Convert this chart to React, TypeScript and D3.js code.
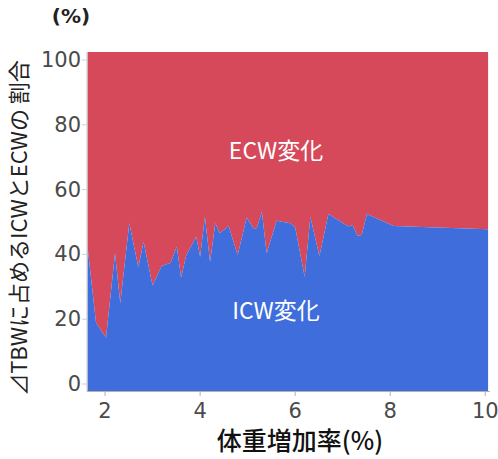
import React from "react";
import * as d3 from "d3";

const weightGain: number[] = [1.63, 1.81, 2.02, 2.21, 2.32, 2.51, 2.70, 2.81, 3.0, 3.19, 3.38, 3.51, 3.6, 3.71, 3.92, 4.0, 4.1, 4.21, 4.32, 4.41, 4.6, 4.79, 4.98, 5.12, 5.19, 5.30, 5.40, 5.61, 5.9, 6.0, 6.2, 6.32, 6.51, 6.70, 7.12, 7.21, 7.31, 7.40, 7.51, 8.07, 10.06];
const icwShare: number[] = [42.8, 20.1, 15.7, 40.6, 25.9, 49.5, 36.5, 44.0, 31.1, 36.9, 37.8, 42.6, 33.5, 40.1, 45.5, 39.6, 51.4, 38.1, 49.5, 46.5, 48.7, 40.1, 51.2, 48.0, 48.0, 52.9, 40.6, 50.2, 49.5, 48.3, 33.7, 51.4, 39.8, 52.2, 48.5, 49.0, 45.8, 46.0, 52.2, 48.7, 47.7];
const xTicks: number[] = [2, 4, 6, 8, 10];
const yTicks: number[] = [0, 20, 40, 60, 80, 100];

const W = 498, H = 459;
const L = 87, R = 490, T = 52, B = 391;

export default function App() {
  const x = d3.scaleLinear().domain([1.62, 10.1]).range([L, R]);
  const y = d3.scaleLinear().domain([0, 100]).range([B, T]);
  const yLab = d3.scaleLinear().domain([0, 100]).range([B - 7, T + 8]);
  const data = weightGain.map((g, i) => ({ g, v: icwShare[i] }));
  const icwArea = d3.area<{ g: number; v: number }>()
    .x(d => x(d.g)).y0(y(0)).y1(d => y(d.v));
  const ecwArea = d3.area<{ g: number; v: number }>()
    .x(d => x(d.g)).y0(d => y(d.v)).y1(y(100));
  const font = "'DejaVu Sans', Verdana, sans-serif";
  const jp = "'Noto Sans CJK JP', sans-serif";
  return (
    <svg width={W} height={H} style={{ position: "absolute", left: 0, top: 0 }}>
      <rect width={W} height={H} fill="#fff" />
      <path d={ecwArea(data) || ""} fill="#D5495B" />
      <path d={icwArea(data) || ""} fill="#3F6EDC" />
      <line x1={L} x2={L} y1={T} y2={B} stroke="#c8c8c8" />
      <line x1={L} x2={R} y1={B + 0.5} y2={B + 0.5} stroke="#b0b0b0" />
      {yTicks.map(t => (
        <g key={t}>
          <line x1={L - 5} x2={L} y1={yLab(t)} y2={yLab(t)} stroke="#d0d0d0" />
          <text x={L - 6} y={yLab(t)} textAnchor="end" dominantBaseline="central" fontFamily={font} fontSize={21} fill="#4a4a4a">{t}</text>
        </g>
      ))}
      {xTicks.map(t => (
        <g key={t}>
          <line x1={x(t)} x2={x(t)} y1={B} y2={B + 5} stroke="#b0b0b0" />
          <text x={x(t)} y={B + 27} textAnchor="middle" fontFamily={font} fontSize={21} fill="#4a4a4a">{t}</text>
        </g>
      ))}
      <text x={300} y={450} textAnchor="middle" fontFamily={jp} fontSize={25} fontWeight={500} fill="#111">体重増加率(%)</text>
      <text transform={`translate(27,228) rotate(-90)`} textAnchor="middle" fontFamily={jp} fontSize={22} fill="#222">⊿TBWに占めるICWとECWの 割合</text>
      <text x={71} y={23} textAnchor="middle" fontFamily={font} fontSize={20} fontWeight="bold" fill="#222">(%)</text>
      <text x={276} y={159} textAnchor="middle" fontFamily={jp} fontSize={23} fill="#fff">ECW変化</text>
      <text x={276} y={319} textAnchor="middle" fontFamily={jp} fontSize={23} fill="#fff">ICW変化</text>
    </svg>
  );
}
